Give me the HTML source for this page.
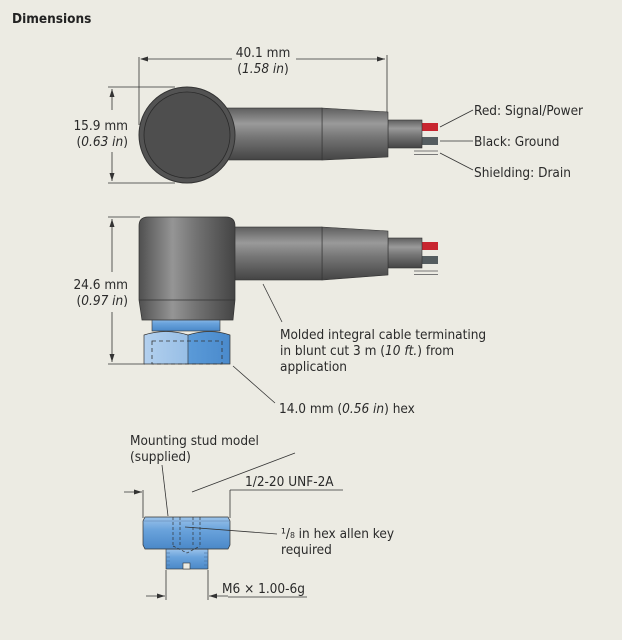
<!DOCTYPE html>
<html><head><meta charset="utf-8"><style>
html,body{margin:0;padding:0;background:#ecebe3;}
svg{display:block;}
text{font-family:"DejaVu Sans Condensed","Liberation Sans",sans-serif;font-size:13.5px;fill:#2a2a2a;}
.i{font-style:italic;}
</style></head><body>
<svg width="622" height="640" viewBox="0 0 622 640" xmlns="http://www.w3.org/2000/svg">
<defs>
<linearGradient id="cv" x1="0" y1="0" x2="0" y2="1">
<stop offset="0" stop-color="#5e5e5e"/><stop offset="0.3" stop-color="#9a9a9a"/><stop offset="0.55" stop-color="#777"/><stop offset="1" stop-color="#444"/>
</linearGradient>
<linearGradient id="ch" x1="0" y1="0" x2="1" y2="0">
<stop offset="0" stop-color="#505050"/><stop offset="0.35" stop-color="#959595"/><stop offset="0.6" stop-color="#727272"/><stop offset="1" stop-color="#444"/>
</linearGradient>
<linearGradient id="bl" x1="0" y1="0" x2="1" y2="0">
<stop offset="0" stop-color="#b3d0ee"/><stop offset="0.5" stop-color="#98bfe6"/><stop offset="0.52" stop-color="#5a9ad8"/><stop offset="1" stop-color="#4a8acc"/>
</linearGradient>
<linearGradient id="bv" x1="0" y1="0" x2="0" y2="1">
<stop offset="0" stop-color="#9cc3ea"/><stop offset="0.4" stop-color="#6aa3dc"/><stop offset="1" stop-color="#4a88c8"/>
</linearGradient>
<marker id="ar" markerWidth="8" markerHeight="6" refX="8" refY="3" orient="auto" markerUnits="userSpaceOnUse"><path d="M0,0.5 L8,3 L0,5.5z" fill="#333"/></marker>
</defs>

<text x="12" y="23" style="font-weight:bold;font-size:13.5px;fill:#222">Dimensions</text>

<!-- TOP VIEW -->
<g stroke="#333" stroke-width="0.8" fill="none">
<line x1="139" y1="57" x2="139" y2="125"/>
<line x1="387" y1="55" x2="387" y2="112"/>
<line x1="141" y1="59" x2="232" y2="59"/>
<line x1="296" y1="59" x2="385" y2="59" marker-end="url(#ar)"/>
<line x1="108" y1="87" x2="175" y2="87"/>
<line x1="108" y1="183" x2="175" y2="183"/>
<line x1="112" y1="110" x2="112" y2="89" marker-end="url(#ar)"/>
<line x1="112" y1="152" x2="112" y2="181" marker-end="url(#ar)"/>
</g>
<path d="M140,59 l8,-2.5 v5z" fill="#333"/>
<text x="263" y="57" text-anchor="middle">40.1 mm</text>
<text x="263" y="73" text-anchor="middle">(<tspan class="i">1.58 in</tspan>)</text>
<text x="128" y="130" text-anchor="end">15.9 mm</text>
<text x="128" y="146" text-anchor="end">(<tspan class="i">0.63 in</tspan>)</text>

<rect x="422" y="123" width="16" height="8" fill="#c8252f"/>
<rect x="422" y="137" width="16" height="8" fill="#555d60"/>
<line x1="414" y1="151" x2="438" y2="151" stroke="#777" stroke-width="1"/>
<line x1="414" y1="154.5" x2="438" y2="154.5" stroke="#777" stroke-width="1"/>
<rect x="388" y="120" width="34" height="28" fill="url(#cv)" stroke="#333" stroke-width="0.6"/>
<path d="M322,108 L388,112 L388,157 L322,160z" fill="url(#cv)" stroke="#333" stroke-width="0.6"/>
<rect x="222" y="108" width="100" height="52" fill="url(#cv)" stroke="#333" stroke-width="0.6"/>
<circle cx="187" cy="135" r="48" fill="#535353" stroke="#333"/>
<circle cx="187" cy="135" r="43" fill="#4e4e4e" stroke="#2a2a2a" stroke-width="0.8"/>

<g stroke="#333" stroke-width="0.8">
<line x1="440" y1="127" x2="473" y2="110"/>
<line x1="440" y1="141" x2="473" y2="141"/>
<line x1="440" y1="153" x2="473" y2="170"/>
</g>
<text x="474" y="115">Red: Signal/Power</text>
<text x="474" y="146">Black: Ground</text>
<text x="474" y="177">Shielding: Drain</text>

<!-- SIDE VIEW -->
<g stroke="#333" stroke-width="0.8" fill="none">
<line x1="108" y1="217" x2="140" y2="217"/>
<line x1="108" y1="364" x2="145" y2="364"/>
<line x1="112" y1="272" x2="112" y2="219" marker-end="url(#ar)"/>
<line x1="112" y1="312" x2="112" y2="362" marker-end="url(#ar)"/>
</g>
<text x="128" y="289" text-anchor="end">24.6 mm</text>
<text x="128" y="305" text-anchor="end">(<tspan class="i">0.97 in</tspan>)</text>

<rect x="422" y="242" width="16" height="8" fill="#c8252f"/>
<rect x="422" y="256" width="16" height="8" fill="#555d60"/>
<line x1="414" y1="271" x2="438" y2="271" stroke="#777" stroke-width="1"/>
<line x1="414" y1="274.5" x2="438" y2="274.5" stroke="#777" stroke-width="1"/>
<rect x="388" y="238" width="34" height="30" fill="url(#cv)" stroke="#333" stroke-width="0.6"/>
<path d="M322,227 L388,231 L388,275 L322,280z" fill="url(#cv)" stroke="#333" stroke-width="0.6"/>
<rect x="233" y="227" width="89" height="53" fill="url(#cv)" stroke="#333" stroke-width="0.6"/>

<rect x="152" y="318" width="68" height="13" fill="url(#bv)" stroke="#333" stroke-width="0.6"/>
<path d="M144,335 Q166,328 188,335 Q210,328 230,335 L230,364 L144,364z" fill="url(#bl)" stroke="#333" stroke-width="0.7"/>
<line x1="188" y1="335" x2="188" y2="364" stroke="#333" stroke-width="0.6"/>
<rect x="152" y="341" width="70" height="23" fill="none" stroke="#333" stroke-width="0.8" stroke-dasharray="4,3"/>
<path d="M139,226 Q139,217 148,217 L226,217 Q235,217 235,226 L235,300 L233,320 L142,320 L139,300z" fill="url(#ch)" stroke="#333" stroke-width="0.7"/>
<line x1="139" y1="300" x2="235" y2="300" stroke="#333" stroke-width="0.7"/>

<g stroke="#333" stroke-width="0.8">
<line x1="263" y1="284" x2="282" y2="322"/>
<line x1="233" y1="366" x2="275" y2="403"/>
</g>
<text x="280" y="339">Molded integral cable terminating</text>
<text x="280" y="355">in blunt cut 3 m (<tspan class="i">10 ft.</tspan>) from</text>
<text x="280" y="371">application</text>
<text x="279" y="413">14.0 mm (<tspan class="i">0.56 in</tspan>) hex</text>

<!-- STUD -->
<text x="130" y="445">Mounting stud model</text>
<text x="130" y="461">(supplied)</text>
<g stroke="#333" stroke-width="0.8" fill="none">
<line x1="162" y1="465" x2="168" y2="516"/>
<line x1="192" y1="492" x2="295" y2="453"/>
<line x1="230" y1="490" x2="343" y2="490"/>
<line x1="143" y1="490" x2="143" y2="518"/>
<line x1="230" y1="490" x2="230" y2="518"/>
<line x1="124" y1="492" x2="142" y2="492" marker-end="url(#ar)"/>
<line x1="166" y1="570" x2="166" y2="600"/>
<line x1="208" y1="570" x2="208" y2="600"/>
<line x1="146" y1="596" x2="165" y2="596" marker-end="url(#ar)"/>
<line x1="228" y1="596" x2="209" y2="596" marker-end="url(#ar)"/>
<line x1="228" y1="597" x2="307" y2="597"/>
</g>
<text x="245" y="486">1/2-20 UNF-2A</text>
<text x="222" y="593">M6 × 1.00-6g</text>

<rect x="166" y="549" width="42" height="20" fill="url(#bv)" stroke="#333" stroke-width="0.6"/>
<g stroke="#4a6f99" stroke-width="0.6">
<line x1="166" y1="553" x2="170" y2="553"/><line x1="166" y1="557" x2="170" y2="557"/><line x1="166" y1="561" x2="170" y2="561"/><line x1="166" y1="565" x2="170" y2="565"/>
<line x1="204" y1="553" x2="208" y2="553"/><line x1="204" y1="557" x2="208" y2="557"/><line x1="204" y1="561" x2="208" y2="561"/><line x1="204" y1="565" x2="208" y2="565"/>
</g>
<rect x="183" y="563" width="7" height="6" fill="#ecebe3" stroke="#333" stroke-width="0.6"/>
<path d="M145,517 L228,517 L230,521 L230,545 L228,549 L145,549 L143,545 L143,521z" fill="url(#bv)" stroke="#333" stroke-width="0.7"/>
<line x1="143" y1="521" x2="230" y2="521" stroke="#5a7fa8" stroke-width="0.5"/>
<g stroke="#333" stroke-width="0.7" stroke-dasharray="3,2" fill="none">
<line x1="173" y1="517" x2="173" y2="546"/>
<line x1="200" y1="517" x2="200" y2="546"/>
<line x1="180" y1="517" x2="180" y2="546"/>
<line x1="193" y1="517" x2="193" y2="546"/>
<path d="M173,546 L187,553 L200,546"/>
</g>
<line x1="185" y1="527" x2="277" y2="534" stroke="#333" stroke-width="0.8"/>
<text x="281" y="538">¹/₈ in hex allen key</text>
<text x="281" y="554">required</text>
</svg>
</body></html>
